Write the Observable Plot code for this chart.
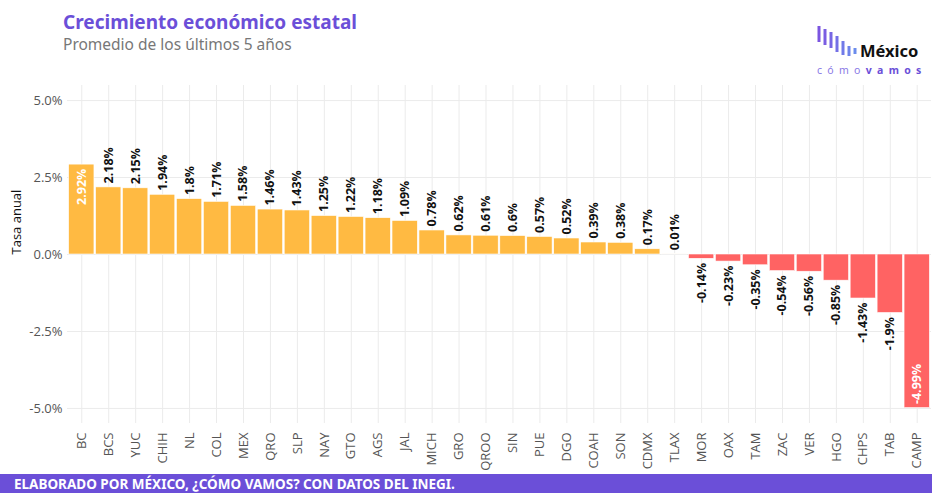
<!DOCTYPE html>
<html>
<head>
<meta charset="utf-8">
<script src="https://cdn.jsdelivr.net/npm/d3@7"></script>
<script src="https://cdn.jsdelivr.net/npm/@observablehq/plot@0.6"></script>
<style>
  html, body { margin: 0; padding: 0; background: #fff; }
  #wrap { position: relative; width: 932px; height: 493px; overflow: hidden; font-family: "Open Sans", sans-serif; }
  #title { position: absolute; left: 63px; top: 9px; font-family: "Noto Sans", sans-serif; font-weight: 700; font-size: 19px; color: #6b4fd8; }
  #subtitle { position: absolute; left: 63px; top: 33px; font-family: "Noto Sans", sans-serif; font-size: 15.5px; color: #777; }
  #chart { position: absolute; left: 0; top: 0; }
  #footer { position: absolute; left: 0; top: 474px; width: 932px; height: 19px; background: #6b4fd8; color: #fff; font-family: "Noto Sans", sans-serif; font-weight: 700; font-size: 13.5px; line-height: 20px; padding-left: 14px; box-sizing: border-box; }
  #logo { position: absolute; left: 812px; top: 22px; }
</style>
</head>
<body>
<div id="wrap">
  <div id="chart"></div>
  <div id="title">Crecimiento económico estatal</div>
  <div id="subtitle">Promedio de los últimos 5 años</div>
  <svg id="logo" width="120" height="56">
    <g stroke-width="3" stroke-linecap="butt">
      <line x1="7" y1="4" x2="7" y2="20" stroke="#7b55e0"/>
      <line x1="13" y1="7" x2="13" y2="23" stroke="#7a5de2"/>
      <line x1="19" y1="10" x2="19" y2="26" stroke="#7766e4"/>
      <line x1="25" y1="14" x2="25" y2="30" stroke="#7470e6"/>
      <line x1="31" y1="19" x2="31" y2="33" stroke="#717ae8"/>
      <line x1="37" y1="24" x2="37" y2="34" stroke="#6e83ea"/>
      <line x1="43" y1="26" x2="43" y2="32" stroke="#6b8cec"/>
    </g>
    <text x="48" y="35" font-family="Noto Sans, sans-serif" font-weight="700" font-size="16.5" fill="#111">México</text>
    <text x="5" y="52" font-family="Noto Sans, sans-serif" font-size="10.5" letter-spacing="5.3" fill="#8a79e6">cómo<tspan font-weight="700" fill="#6b4fd8">vamos</tspan></text>
  </svg>
  <div id="footer">ELABORADO POR MÉXICO, ¿CÓMO VAMOS? CON DATOS DEL INEGI.</div>
</div>
<script>
const estados = ["BC","BCS","YUC","CHIH","NL","COL","MEX","QRO","SLP","NAY","GTO","AGS","JAL","MICH","GRO","QROO","SIN","PUE","DGO","COAH","SON","CDMX","TLAX","MOR","OAX","TAM","ZAC","VER","HGO","CHPS","TAB","CAMP"];
const tasas = [2.92,2.18,2.15,1.94,1.8,1.71,1.58,1.46,1.43,1.25,1.22,1.18,1.09,0.78,0.62,0.61,0.6,0.57,0.52,0.39,0.38,0.17,0.01,-0.14,-0.23,-0.35,-0.54,-0.56,-0.85,-1.43,-1.9,-4.99];
const yTicks = [-5, -2.5, 0, 2.5, 5];

const data = estados.map((e, i) => ({estado: e, tasa: tasas[i]}));
const maxV = d3.max(tasas), minV = d3.min(tasas);
const inside = d => d.tasa === maxV || d.tasa === minV;
const fmt = d => `${d.tasa}%`;
const labelStyle = {x: "estado", y: "tasa", text: fmt, rotate: -90, fontWeight: "bold", fontSize: 12.5};

const chart = Plot.plot({
  width: 932,
  height: 470,
  marginLeft: 67,
  marginRight: 1,
  marginTop: 85,
  marginBottom: 47,
  style: {fontFamily: "Open Sans, sans-serif", fontSize: "13px", background: "transparent"},
  x: {domain: estados, padding: 0.06, label: null},
  y: {domain: [-5.49, 5.49], label: null},
  marks: [
    Plot.gridY(yTicks, {stroke: "#ebebeb", strokeOpacity: 1}),
    Plot.gridX(estados, {stroke: "#ebebeb", strokeOpacity: 1}),
    Plot.barY(data, {x: "estado", y: "tasa", fill: d => d.tasa >= 0 ? "#ffba42" : "#ff6363", stroke: "#fff", strokeWidth: 0.6}),
    Plot.text(data.filter(d => !inside(d) && d.tasa >= 0), {...labelStyle, textAnchor: "start", dy: -4, fill: "#111"}),
    Plot.text(data.filter(d => !inside(d) && d.tasa < 0), {...labelStyle, textAnchor: "end", dy: 4, fill: "#111"}),
    Plot.text(data.filter(d => inside(d) && d.tasa >= 0), {...labelStyle, textAnchor: "end", dy: 4, fill: "#fff"}),
    Plot.text(data.filter(d => inside(d) && d.tasa < 0), {...labelStyle, textAnchor: "start", dy: -4, fill: "#fff"}),
    Plot.axisY({ticks: yTicks, tickFormat: v => v.toFixed(1) + "%", tickSize: 0, tickPadding: 5, fill: "#555", label: null}),
    Plot.axisX({tickRotate: -90, tickSize: 0, tickPadding: 9, fill: "#555", label: null}),
    Plot.text(["Tasa anual"], {frameAnchor: "left", dx: -51, rotate: -90, fontSize: 13, fill: "#111"})
  ]
});
document.getElementById("chart").appendChild(chart);
</script>
</body>
</html>
